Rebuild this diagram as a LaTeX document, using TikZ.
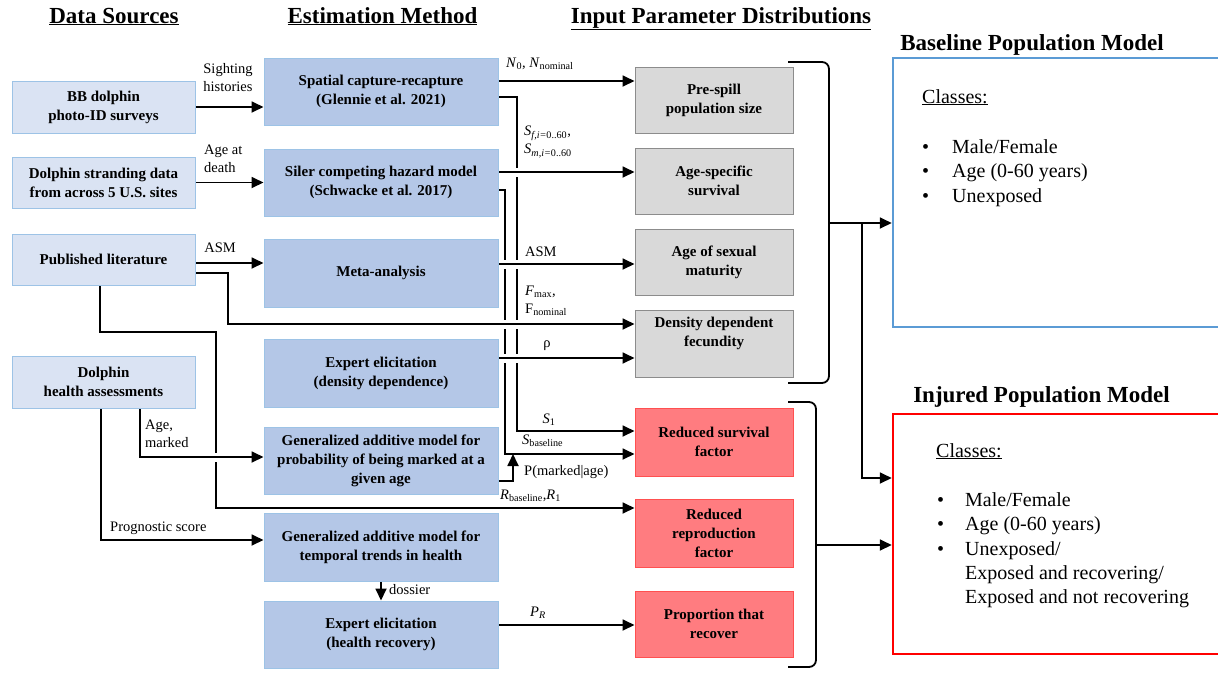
\documentclass[tikz,border=0pt]{standalone}
\usepackage{fontspec}
\setmainfont{Liberation Serif}
\usetikzlibrary{arrows.meta}
\definecolor{srcfill}{HTML}{DAE3F3}
\definecolor{srcdraw}{HTML}{9DC3E6}
\definecolor{methfill}{HTML}{B4C7E7}
\definecolor{methdraw}{HTML}{9DC3E6}
\definecolor{parfill}{HTML}{D9D9D9}
\definecolor{pardraw}{HTML}{8C8C8C}
\definecolor{injfill}{HTML}{FF7C80}
\definecolor{injdraw}{HTML}{FF5050}
\definecolor{blbord}{HTML}{5B9BD5}
\definecolor{injbord}{HTML}{FF0000}
\pgfdeclarelayer{background}
\pgfsetlayers{background,main}
\begin{document}
\begin{tikzpicture}[x=1pt,y=-1pt,
  boxfont/.style={font=\fontsize{15}{19}\selectfont\bfseries},
  src/.style={draw=srcdraw, fill=srcfill, line width=1pt, minimum width=183pt, inner sep=0pt, align=center, boxfont},
  meth/.style={draw=methdraw, fill=methfill, line width=1pt, minimum width=234pt, inner sep=0pt, align=center, boxfont},
  par/.style={draw=pardraw, fill=parfill, line width=1pt, minimum width=158pt, minimum height=66pt, inner sep=0pt, align=center, boxfont},
  redbox/.style={draw=injdraw, fill=injfill, line width=1pt, minimum width=158pt, minimum height=68pt, inner sep=0pt, align=center, boxfont},
  lbl/.style={font=\fontsize{14.5}{18}\selectfont, inner sep=0pt, align=left},
  hdr/.style={font=\fontsize{23}{27}\selectfont\bfseries, inner sep=0pt},
  cls/.style={font=\fontsize{20}{24}\selectfont, inner sep=0pt},
  ln/.style={line width=1.8pt},
  arr/.style={line width=1.8pt, -{Triangle[length=12pt,width=11pt]}},
  gap/.style={preaction={draw=white, line width=9pt, -}}
]
\useasboundingbox (0,0) rectangle (1218,673);

% headers
\node[hdr, anchor=base] (h1) at (114,23) {\underline{Data Sources}};
\node[hdr, anchor=base] (h2) at (382.5,23) {\underline{Estimation Method}};
\node[hdr, anchor=base] (h3) at (721,23) {\underline{Input Parameter Distributions}};
\node[hdr, anchor=base] (h4) at (1032,50) {Baseline Population Model};
\node[hdr, anchor=base] (h5) at (1041.5,402) {Injured Population Model};

% data sources
\node[src, minimum height=52pt] (bb) at (103.5,107) {BB dolphin\\photo-ID surveys};
\node[src, minimum height=51pt] (strand) at (103.5,182.5) {Dolphin stranding data\\from across 5 U.S. sites};
\node[src, minimum height=51pt] (pub) at (103.5,259.5) {Published literature};
\node[src, minimum height=52pt] (health) at (103.5,382) {Dolphin\\health assessments};

% estimation methods
\node[meth, minimum height=67pt] (spatial) at (381,91.5) {Spatial capture-recapture\\(Glennie et al. 2021)};
\node[meth, minimum height=67pt] (siler) at (381,182.5) {Siler competing hazard model\\(Schwacke et al. 2017)};
\node[meth, minimum height=68pt] (meta) at (381,273) {Meta-analysis};
\node[meth, minimum height=68pt] (exd) at (381,373) {Expert elicitation\\(density dependence)};
\node[meth, minimum height=67pt] (gamm) at (381,460.5) {Generalized additive model for\\probability of being marked at a\\given age};
\node[meth, minimum height=68pt] (gamt) at (381,547) {Generalized additive model for\\temporal trends in health};
\node[meth, minimum height=67pt] (exh) at (381,634.5) {Expert elicitation\\(health recovery)};

% parameter distributions
\node[par] (pre) at (714,100) {Pre-spill\\population size};
\node[par] (agesp) at (714,181) {Age-specific\\survival};
\node[par] (asm) at (714,262) {Age of sexual\\maturity};
\node[par, minimum height=67pt] (dens) at (714,343.5) {};
\node[boxfont, inner sep=0pt, align=center] (denst) at (714,333) {Density dependent\\fecundity};
\node[redbox] (red1) at (714,442) {Reduced survival\\factor};
\node[redbox] (red2) at (714,533) {Reduced\\reproduction\\factor};
\node[redbox, minimum height=66pt] (red3) at (714,624) {Proportion that\\recover};

% population models
\node[draw=blbord, line width=2.5pt, minimum width=330pt, minimum height=269pt, inner sep=0pt] (bl) at (1058,192.5) {};
\node[draw=injbord, line width=2.5pt, minimum width=330pt, minimum height=240pt, inner sep=0pt] (inj) at (1058,534) {};

\node[cls, anchor=base west] (bc0) at (922,103) {\underline{Classes:}};
\node[cls, anchor=base west] (bc1) at (922,153) {\makebox[30pt][l]{•}Male/Female};
\node[cls, anchor=base west] (bc2) at (922,177.5) {\makebox[30pt][l]{•}Age (0-60 years)};
\node[cls, anchor=base west] (bc3) at (922,202) {\makebox[30pt][l]{•}Unexposed};

\node[cls, anchor=base west] (ic0) at (936,457) {\underline{Classes:}};
\node[cls, anchor=base west] (ic1) at (937,506) {\makebox[28pt][l]{•}Male/Female};
\node[cls, anchor=base west] (ic2) at (937,530.5) {\makebox[28pt][l]{•}Age (0-60 years)};
\node[cls, anchor=base west] (ic3) at (937,555) {\makebox[28pt][l]{•}Unexposed/};
\node[cls, anchor=base west] (ic4) at (965,579) {Exposed and recovering/};
\node[cls, anchor=base west] (ic5) at (965,603) {Exposed and not recovering};

% connector waypoints
\coordinate (v1) at (517,300);
\coordinate (v2) at (505,300);
\coordinate (pm) at (513,454);
\coordinate (pbx) at (228,300);
\coordinate (rb1) at (216,332);
\coordinate (b1tip) at (829,223);
\coordinate (b1split) at (862,223);
\coordinate (b2tip) at (816,545);

\begin{pgfonlayer}{background}
\fill[white] (0,0) rectangle (1218,673);
% elbow connectors (drawn first, crossed by later ones)
\draw[arr] ([yshift=-5.5pt]spatial.east) -| (v1) |- ([yshift=11pt]red1.west);
\draw[arr] ([yshift=-7.5pt]siler.east) -| (v2) |- ([yshift=-12pt]red1.west);
\draw[arr] ([xshift=-3.5pt]pub.south) |- (rb1) |- ([yshift=25pt]red2.west);
\draw[arr] ([xshift=-2.5pt]health.south) |- ([yshift=7pt]gamt.west);
% straight connectors
\draw[arr] (bb.east) -- (bb.east -| spatial.west);
\draw[arr] (strand.east) -- (strand.east -| siler.west);
\draw[arr] ([yshift=-3.5pt]pub.east) -- ([yshift=-3.5pt]pub.east -| meta.west);
\draw[arr] ([yshift=10.5pt]spatial.east) -- ([yshift=10.5pt]spatial.east -| pre.west);
\draw[arr, gap] ([yshift=10.5pt]siler.east) -- ([yshift=10.5pt]siler.east -| agesp.west);
\draw[arr, gap] ([yshift=9pt]meta.east) -- ([yshift=9pt]meta.east -| asm.west);
\draw[arr, gap] ([yshift=-13.5pt]pub.east) -| (pbx) |- ([yshift=19.5pt]dens.west);
\draw[arr, gap] ([yshift=15pt]exd.east) -- ([yshift=15pt]exd.east -| dens.west);
\draw[arr, gap] ([xshift=36.5pt]health.south) |- ([yshift=3.5pt]gamm.west);
\draw[arr] ([yshift=-20.5pt]gamm.east) -| (pm);
\draw[arr] (gamt.south) -- (exh.north);
\draw[arr] ([yshift=9.5pt]exh.east) -- ([yshift=9.5pt]exh.east -| red3.west);
% brackets
\draw[ln, rounded corners=7pt] (788,62) -- (829,62) -- (829,383) -- (788,383);
\draw[ln, rounded corners=7pt] (788,402) -- (816,402) -- (816,667) -- (788,667);
\draw[arr] (b1tip) -- (b1tip -| bl.west);
\draw[arr] (b1split) |- ([yshift=56pt]inj.west);
\draw[arr] (b2tip) -- (b2tip -| inj.west);
\end{pgfonlayer}

% connector labels
\node[lbl, align=center] (lsight) at (228,78) {Sighting\\histories};
\node[lbl, anchor=west] (lage) at (204,159) {Age at\\death};
\node[lbl] (lasm1) at (220,248) {ASM};
\node[lbl, anchor=west] (lagem) at (145,434) {Age,\\marked};
\node[lbl, anchor=west] (lprog) at (110,528) {Prognostic score};
\node[lbl, anchor=west] (ln0) at (506,64) {\textit{N}\textsubscript{0}, \textit{N}\textsubscript{nominal}};
\node[lbl, anchor=west] (ls) at (524,142) {\textit{S}\textsubscript{\textit{f,i=}0..60},\\\textit{S}\textsubscript{\textit{m,i=}0..60}};
\node[lbl, anchor=west] (lasm2) at (525,252) {ASM};
\node[lbl, anchor=west] (lf) at (525,301) {\textit{F}\textsubscript{max},\\F\textsubscript{nominal}};
\node[lbl] (lrho) at (547,346) {ρ};
\node[lbl] (ls1) at (549,420) {\textit{S}\textsubscript{1}};
\node[lbl, anchor=west] (lsb) at (522,441) {\textit{S}\textsubscript{baseline}};
\node[lbl, anchor=west] (lpm) at (524,472) {P(marked|age)};
\node[lbl, anchor=west] (lr) at (500,496) {\textit{R}\textsubscript{baseline},\textit{R}\textsubscript{1}};
\node[lbl] (lpr) at (538,613) {\textit{P}\textsubscript{\textit{R}}};
\node[lbl, anchor=west] (ldos) at (389,590) {dossier};
\end{tikzpicture}
\end{document}
